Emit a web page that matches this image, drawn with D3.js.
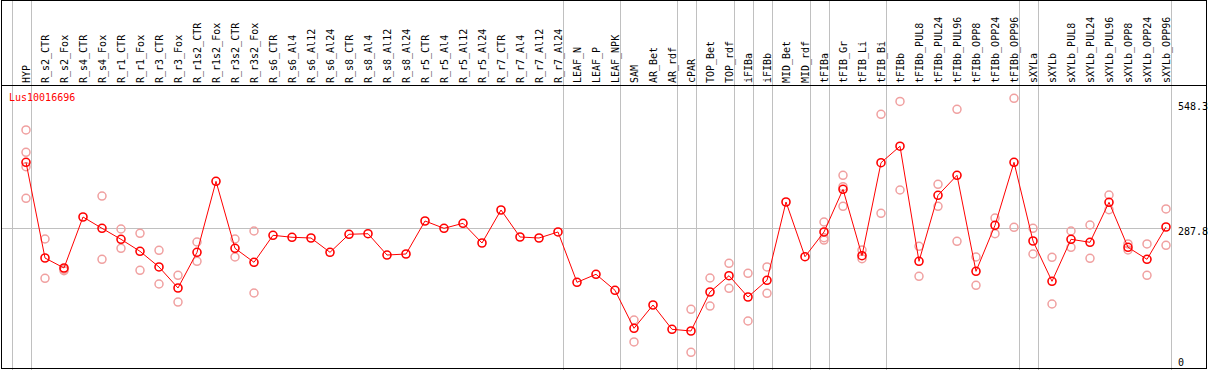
<!DOCTYPE html>
<html>
<head>
<meta charset="utf-8">
<script src="https://cdn.jsdelivr.net/npm/d3@7"></script>
<style>
  body { margin: 0; background: #fff; }
  text { font-family: 'DejaVu Sans Mono', monospace; font-size: 10px; }
</style>
</head>
<body>
<div class="chart"></div>
<script>
const gene = 'Lus10016696';

const samples = ['HYP', 'R_s2_CTR', 'R_s2_Fox', 'R_s4_CTR', 'R_s4_Fox', 'R_r1_CTR', 'R_r1_Fox',
  'R_r3_CTR', 'R_r3_Fox', 'R_r1s2_CTR', 'R_r1s2_Fox', 'R_r3s2_CTR', 'R_r3s2_Fox', 'R_s6_CTR',
  'R_s6_Al4', 'R_s6_Al12', 'R_s6_Al24', 'R_s8_CTR', 'R_s8_Al4', 'R_s8_Al12', 'R_s8_Al24',
  'R_r5_CTR', 'R_r5_Al4', 'R_r5_Al12', 'R_r5_Al24', 'R_r7_CTR', 'R_r7_Al4', 'R_r7_Al12',
  'R_r7_Al24', 'LEAF_N', 'LEAF_P', 'LEAF_NPK', 'SAM', 'AR_Bet', 'AR_rdf', 'cPAR', 'TOP_Bet',
  'TOP_rdf', 'iFIBa', 'iFIBb', 'MID_Bet', 'MID_rdf', 'tFIBa', 'tFIB_Gr', 'tFIB_Li', 'tFIB_Bi',
  'tFIBb', 'tFIBb_PUL8', 'tFIBb_PUL24', 'tFIBb_PUL96', 'tFIBb_OPP8', 'tFIBb_OPP24', 'tFIBb_OPP96',
  'sXYLa', 'sXYLb', 'sXYLb_PUL8', 'sXYLb_PUL24', 'sXYLb_PUL96', 'sXYLb_OPP8', 'sXYLb_OPP24',
  'sXYLb_OPP96'];

// mean expression per sample
const means = [424.6, 226.1, 205.4, 311.2, 287.7, 264.9, 240.0, 207.5, 163.9, 237.9, 385.2,
  246.2, 217.2, 273.2, 269.1, 267.6, 237.9, 275.3, 276.5, 232.3, 234.4, 302.9, 287.7, 298.1,
  257.2, 325.7, 269.7, 267.6, 280.1, 175.7, 192.3, 159.1, 80.3, 128.6, 78.2, 74.7, 155.6,
  189.4, 145.2, 179.9, 342.3, 228.8, 280.1, 368.6, 230.9, 423.8, 458.0, 219.3, 356.2, 397.7,
  198.5, 294.0, 424.6, 261.4, 177.8, 264.9, 258.7, 341.7, 248.3, 223.4, 290.4];

// replicate values per sample
const replicates = [
  [491.7, 445.4, 415.5, 350.0], [265.5, 184.0], [202.7, 199.8], [], [354.7, 223.4],
  [286.3, 246.2], [277.4, 200.6], [242.1, 172.2], [190.2, 134.8], [259.3, 219.3], [],
  [265.5, 228.2], [282.1, 153.5], [], [], [], [], [], [], [], [], [], [], [], [], [], [], [],
  [], [], [], [], [97.5, 51.9], [], [], [119.7, 30.5], [184.6, 126.5], [215.1, 163.3],
  [194.4, 95.4], [207.5, 152.9], [], [], [300.8, 268.2, 263.3], [397.7, 374.0, 333.4],
  [242.7, 224.7], [524.2, 318.9], [551.0, 367.2], [250.4, 188.2], [379.0, 333.4],
  [534.6, 260.8], [228.2, 169.5], [309.1, 276.5], [557.4, 289.8], [287.7, 234.4],
  [227.6, 130.7], [282.1, 248.3], [294.6, 225.5], [356.8, 326.3], [255.2, 242.7],
  [255.2, 190.2], [327.8, 252.5]];

const yTicks = [0, 287.8, 548.3];
const gridValue = 287.8;

// separators drawn after these sample indexes (-1 = before the first)
const groupEnds = [-1, 0, 28, 31, 34, 35, 37, 38, 39, 41, 42, 45, 52, 53, 60];

const width = 1209;
const height = 370;
const headerBottom = 85;
const plotBottom = 367;

const svg = d3.select('.chart')
  .append('svg')
  .attr('width', width)
  .attr('height', height);

const x = d3.scalePoint()
  .domain(samples)
  .range([26, 1166]);

const step = x.step();

const y = d3.scaleLinear()
  .domain([0, 585])
  .range([plotBottom, headerBottom]);

// group separators
svg.selectAll('.sep')
  .data(groupEnds)
  .enter().append('line')
  .attr('class', 'sep')
  .attr('x1', d => Math.round(x(samples[0]) + step * d + 4.5) + 0.5)
  .attr('x2', d => Math.round(x(samples[0]) + step * d + 4.5) + 0.5)
  .attr('y1', 0)
  .attr('y2', height)
  .attr('stroke', '#c0c0c0')
  .attr('stroke-width', 1);

// grid line
svg.append('line')
  .attr('x1', 2)
  .attr('x2', 1170)
  .attr('y1', Math.round(y(gridValue)) + 0.5)
  .attr('y2', Math.round(y(gridValue)) + 0.5)
  .attr('stroke', '#c0c0c0');

// frame
svg.append('rect')
  .attr('x', 1.5)
  .attr('y', 0.5)
  .attr('width', 1205)
  .attr('height', 368)
  .attr('fill', 'none')
  .attr('stroke', '#000');

svg.append('line')
  .attr('x1', 1.5)
  .attr('x2', 1206.5)
  .attr('y1', headerBottom + 0.5)
  .attr('y2', headerBottom + 0.5)
  .attr('stroke', '#000');

// sample labels
svg.selectAll('.lab')
  .data(samples)
  .enter().append('text')
  .attr('class', 'lab')
  .attr('transform', d => `translate(${x(d) + 3.5},83) rotate(-90)`)
  .attr('fill', '#000')
  .text(d => d);

// y labels
svg.selectAll('.ylab')
  .data(yTicks)
  .enter().append('text')
  .attr('class', 'ylab')
  .attr('x', 1178)
  .attr('y', d => Math.min(y(d) + 7, 365.5))
  .attr('fill', '#000')
  .text(d => d === 0 ? '0' : d.toFixed(1));

// gene name
svg.append('text')
  .attr('x', 9)
  .attr('y', 100.5)
  .attr('fill', '#ff0000')
  .text(gene);

// replicates
const repPoints = [];
replicates.forEach((vals, i) => vals.forEach(v => repPoints.push({ s: samples[i], v: v })));

svg.selectAll('.rep')
  .data(repPoints)
  .enter().append('circle')
  .attr('class', 'rep')
  .attr('cx', d => x(d.s))
  .attr('cy', d => y(d.v))
  .attr('r', 4)
  .attr('fill', 'none')
  .attr('stroke', '#f0a0a0')
  .attr('stroke-width', 1.5);

// mean line
const line = d3.line()
  .x((d, i) => x(samples[i]))
  .y(d => y(d));

svg.append('path')
  .datum(means)
  .attr('d', line)
  .attr('fill', 'none')
  .attr('stroke', '#ff0000')
  .attr('stroke-width', 1);

svg.selectAll('.mean')
  .data(means)
  .enter().append('circle')
  .attr('class', 'mean')
  .attr('cx', (d, i) => x(samples[i]))
  .attr('cy', d => y(d))
  .attr('r', 4)
  .attr('fill', 'none')
  .attr('stroke', '#ff0000')
  .attr('stroke-width', 1.6);
</script>
</body>
</html>
